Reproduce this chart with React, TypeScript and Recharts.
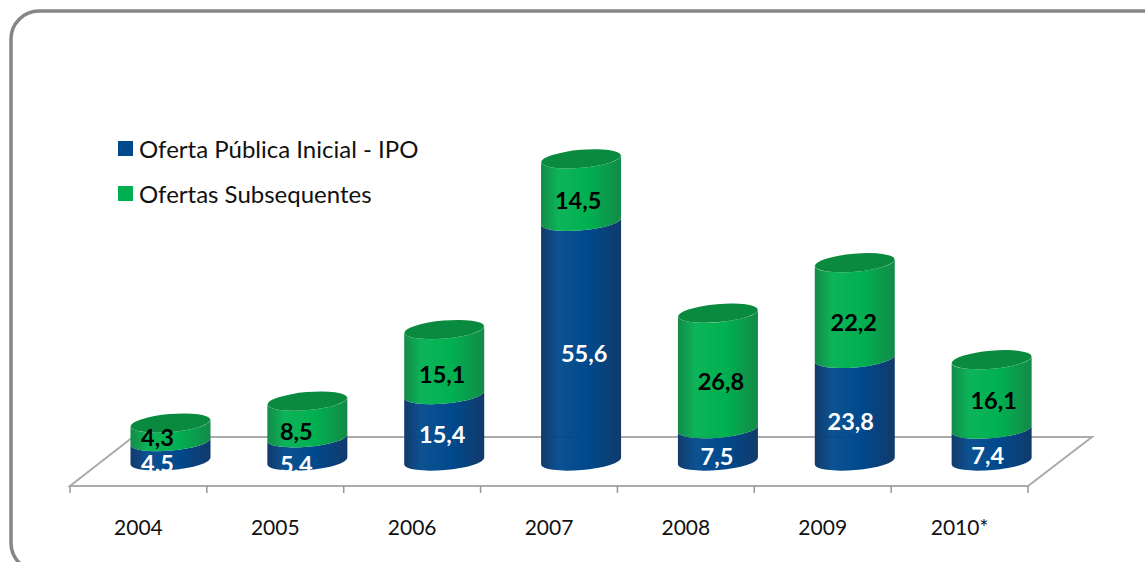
import React from "react";
import { BarChart, Bar, XAxis, YAxis, Legend, LabelList } from "recharts";

const categories = ["2004", "2005", "2006", "2007", "2008", "2009", "2010*"];
const ipoValues = [4.5, 5.4, 15.4, 55.6, 7.5, 23.8, 7.4];
const followOnValues = [4.3, 8.5, 15.1, 14.5, 26.8, 22.2, 16.1];
const IPO_NAME = "Oferta Pública Inicial - IPO";
const FOLLOW_NAME = "Ofertas Subsequentes";

const rows = categories.map((year, i) => ({ year, ipo: ipoValues[i], follow: followOnValues[i] }));

const W = 1145;
const H = 562;
const FONT = "Lato, Carlito, Calibri, sans-serif";
const PLOT = { left: 70, right: 1028, top: 139, bottom: 486 };
const DEPTH_X = 32.5; // oblique 3D shift between floor front edge and bars
const TILT = 3.5;
const RX = 40;
const RY = 9;
const ROT = -5;
const HALF_BAND = (PLOT.right - PLOT.left) / 14;

// label nudges (layout only), per category
const ipoNudge = [[-13, 12], [-11, 15], [-2, 6], [3, 12], [-1, 11], [-4, 11], [-4, 10]];
const followNudge = [[-13, 5], [-11, 12], [-2, 12], [-3, 10], [3, 10], [-1, 11], [2, 6]];

function arc(sweep: number, x: number, y: number) {
  return `A ${RX} ${RY} ${ROT} 0 ${sweep} ${x} ${y}`;
}

function Cylinder(props: any) {
  const { x, y, width, height, fillId, capFill } = props;
  const cx = x + width / 2 + DEPTH_X;
  const l = cx - RX;
  const r = cx + RX;
  const top = y;
  const bot = y + height;
  const d =
    `M ${l} ${bot + TILT} ${arc(0, r, bot - TILT)} L ${r} ${top - TILT} ` +
    `${arc(1, l, top + TILT)} Z`;
  return (
    <g>
      <path d={d} fill={`url(#${fillId})`} />
      {capFill ? (
        <ellipse cx={cx} cy={top} rx={RX} ry={RY} fill={capFill} transform={`rotate(${ROT} ${cx} ${top})`} />
      ) : null}
    </g>
  );
}

function makeLabel(fill: string, nudge: number[][]) {
  return function ValueLabel(props: any) {
    const { x, y, width, height, value, index } = props;
    const [dx, dy] = nudge[index] || [0, 0];
    return (
      <text
        x={x + width / 2 + DEPTH_X + dx}
        y={y + height / 2 + dy}
        textAnchor="middle"
        dominantBaseline="central"
        fontFamily={FONT}
        fontWeight={700}
        fontSize={23.5}
        fill={fill}
      >
        {String(value).replace(".", ",")}
      </text>
    );
  };
}

function YearTick(props: any) {
  const { x, y, payload, index } = props;
  return (
    <g>
      <line x1={x - HALF_BAND} x2={x - HALF_BAND} y1={y} y2={y + 7} stroke="#969696" strokeWidth={1.5} />
      {index === categories.length - 1 ? (
        <line x1={x + HALF_BAND} x2={x + HALF_BAND} y1={y} y2={y + 7} stroke="#969696" strokeWidth={1.5} />
      ) : null}
      <text x={x} y={y + 40} textAnchor="middle" dominantBaseline="central" fontFamily={FONT} fontSize={21} fill="#111">
        {payload.value}
      </text>
    </g>
  );
}

function LegendBox(props: any) {
  return (
    <div>
      {(props.payload || []).map((p: any) => (
        <div key={p.value} style={{ display: "flex", alignItems: "center", height: 45, fontFamily: FONT, fontSize: 24, color: "#111", whiteSpace: "nowrap" }}>
          <span style={{ width: 15, height: 15, background: p.color, marginRight: 6, display: "inline-block" }} />
          {p.value}
        </div>
      ))}
    </div>
  );
}

const Grad = ({ id, edge, mid }: { id: string; edge: string; mid: string }) => (
  <linearGradient id={id} x1="0" y1="0" x2="1" y2="0">
    <stop offset="0" stopColor={edge} />
    <stop offset="0.22" stopColor={mid} stopOpacity={0.95} />
    <stop offset="0.6" stopColor={mid} />
    <stop offset="1" stopColor={edge} />
  </linearGradient>
);

export default function App() {
  return (
    <div style={{ position: "absolute", left: 0, top: 0, width: W, height: H, overflow: "hidden", background: "#fff" }}>
      <svg width={W} height={H} style={{ position: "absolute", left: 0, top: 0 }}>
        <defs>
          <Grad id="blueSide" edge="#123a6b" mid="#00498c" />
          <Grad id="greenSide" edge="#138a48" mid="#00b050" />
        </defs>
        <rect x={11} y={11} width={1180} height={560} rx={28} ry={28} fill="#fff" stroke="#868686" strokeWidth={3.5} />
        <polygon
          points={`${PLOT.left},${PLOT.bottom} ${PLOT.right},${PLOT.bottom} 1092,437 133,437`}
          fill="#fff"
          stroke="#ababab"
          strokeWidth={2}
        />
      </svg>
      <BarChart
        width={W}
        height={H}
        data={rows}
        barSize={80}
        margin={{ left: PLOT.left, right: W - PLOT.right, top: PLOT.top, bottom: 0 }}
        style={{ position: "absolute", left: 0, top: 0 }}
      >
        <XAxis
          dataKey="year"
          height={H - PLOT.bottom}
          interval={0}
          tickLine={false}
          tickSize={0}
          tickMargin={0}
          axisLine={{ stroke: "#ababab", strokeWidth: 2 }}
          tick={<YearTick />}
        />
        <YAxis hide domain={[-5.8, 74.7]} />
        <Legend
          layout="vertical"
          align="center"
          verticalAlign="middle"
          content={<LegendBox />}
          wrapperStyle={{ left: 118, top: 126, width: 340 }}
        />
        <Bar
          dataKey="ipo"
          name={IPO_NAME}
          stackId="a"
          fill="#00498c"
          isAnimationActive={false}
          shape={(p: any) => <Cylinder {...p} fillId="blueSide" />}
        >
          <LabelList dataKey="ipo" content={makeLabel("#ffffff", ipoNudge)} />
        </Bar>
        <Bar
          dataKey="follow"
          name={FOLLOW_NAME}
          stackId="a"
          fill="#00b050"
          isAnimationActive={false}
          shape={(p: any) => <Cylinder {...p} fillId="greenSide" capFill="#0a8a3e" />}
        >
          <LabelList dataKey="follow" content={makeLabel("#000000", followNudge)} />
        </Bar>
      </BarChart>
    </div>
  );
}
